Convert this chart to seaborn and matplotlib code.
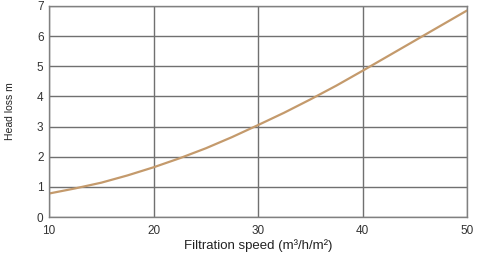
import numpy as np
import pandas as pd
import matplotlib
matplotlib.use("Agg")
import matplotlib.pyplot as plt
import seaborn as sns

# values
speed = [10, 12.5, 15, 17.5, 20, 22.5, 25, 27.5, 30, 32.5, 35, 37.5, 40, 42.5, 45, 47.5, 50]
head_loss = [0.78, 0.95, 1.14, 1.38, 1.65, 1.95, 2.28, 2.65, 3.05, 3.46, 3.9, 4.36, 4.85, 5.35, 5.85, 6.35, 6.85]
x_ticks = [10, 20, 30, 40, 50]
y_ticks = [0, 1, 2, 3, 4, 5, 6, 7]

df = pd.DataFrame({"speed": speed, "head_loss": head_loss})

sns.set_style("white")
plt.rcParams['font.family'] = ['Liberation Sans', 'DejaVu Sans']

fig = plt.figure(figsize=(4.86, 2.59), dpi=100)
ax = fig.add_axes([0.101, 0.162, 0.86, 0.815])

sns.lineplot(data=df, x="speed", y="head_loss", ax=ax, color="#c49a6c", linewidth=1.6)

ax.set_xlim(10, 50)
ax.set_ylim(0, 7)
ax.set_xticks(x_ticks)
ax.set_yticks(y_ticks)
ax.grid(True, color="#707070", linewidth=1.0)
ax.set_axisbelow(True)
for s in ax.spines.values():
    s.set_color("#808080")
    s.set_linewidth(1.0)
ax.tick_params(axis="x", length=0, labelsize=8.5, colors="#333333", pad=6)
ax.tick_params(axis="y", length=0, labelsize=8.5, colors="#333333", pad=4)
ax.set_xlabel("Filtration speed (m³/h/m²)", fontsize=9.5, color="#222222", labelpad=1)
ax.set_ylabel("Head loss m", fontsize=7.5, color="#222222", labelpad=16)

fig.savefig("out.png", dpi=100)
